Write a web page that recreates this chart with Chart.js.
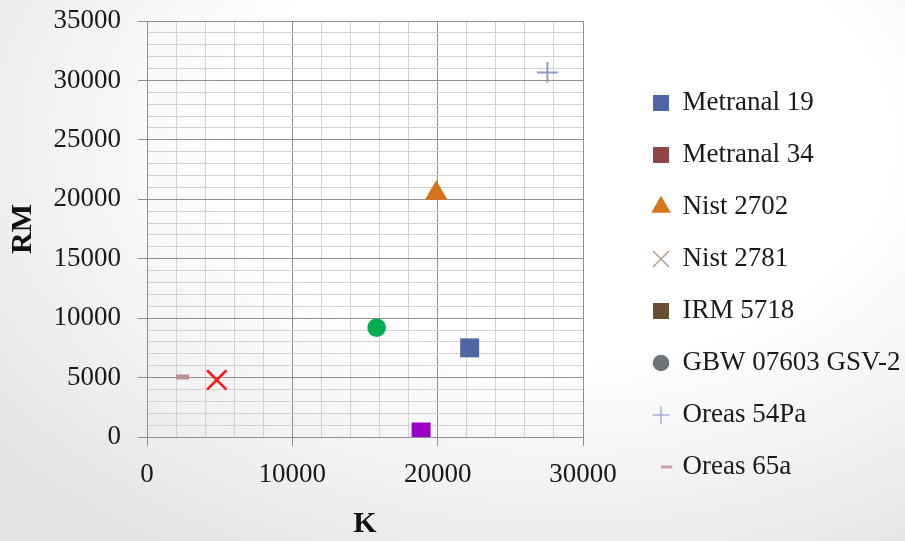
<!DOCTYPE html>
<html>
<head>
<meta charset="utf-8">
<script src="https://cdn.jsdelivr.net/npm/chart.js@4.4.1/dist/chart.umd.min.js"></script>
<style>
    html, body { margin: 0; padding: 0; }
    body {
        width: 905px;
        height: 541px;
        overflow: hidden;
        background: radial-gradient(ellipse 80% 90% at 62% 26%, #ffffff 45%, #e4e4e4 100%);
    }
    #wrap { position: relative; width: 905px; height: 541px; }
</style>
</head>
<body>
<div id="wrap"><canvas id="rmChart"></canvas></div>
<script>
// Reference materials: K vs RM
const sampleNames = ['Metranal 19', 'Metranal 34', 'Nist 2702', 'Nist 2781', 'IRM 5718',
                     'GBW 07603 GSV-2', 'Oreas 54Pa', 'Oreas 65a'];
const kValues  = [22200, 18860, 19900, 4800, null, 15800, 27550, 2450];
const rmValues = [7500, 420, 20500, 4800, null, 9200, 30670, 5050];

// marker look on the plot
const pointShapes = ['rect', 'rect', 'triangle', 'crossRot', 'rect', 'circle', 'cross', 'line'];
const pointColors = ['#4f66a4', '#9a00c8', '#d6721a', '#ff1a1a', '#6b4f33', '#00b050', '#8f9bcc', '#b98f93'];
const pointSizes  = [13.4, 13.4, 13, 13.7, 13.4, 9.3, 10.4, 6.4];
const pointLines  = [0, 0, 0, 2.6, 0, 0, 2, 5];

// marker look in the legend (the reference uses other colours there)
const legendShapes = ['rect', 'rect', 'triangle', 'crossRot', 'rect', 'circle', 'cross', 'dash'];
const legendColors = ['#4f66a6', '#8e4646', '#d9761c', '#b09a88', '#6b4f33', '#6b7378', '#a6aed8', '#c9a0a3'];
const legendLines  = [0, 0, 0, 1.5, 0, 0, 1.5, 3];

const serif = "'Liberation Serif', 'DejaVu Serif', serif";
const LEGEND_WIDTH = 322;
const LEGEND_INDENT = 45;
const LEGEND_DROP = 4;

// small markers for the legend entries the built-in shapes draw too large
function smallMarker(shape, color) {
    const c = document.createElement('canvas');
    c.width = 18;
    c.height = 18;
    const g = c.getContext('2d');
    g.fillStyle = color;
    g.strokeStyle = color;
    g.lineWidth = 1.5;
    if (shape === 'circle') {
        g.beginPath();
        g.arc(9, 9, 8.3, 0, Math.PI * 2);
        g.fill();
    } else if (shape === 'cross') {
        g.beginPath();
        g.moveTo(0.5, 9); g.lineTo(17.5, 9);
        g.moveTo(9, 0.5); g.lineTo(9, 17.5);
        g.stroke();
    }
    return c;
}

// keep the legend at the width and spot it has in the reference
const legendPlacement = {
    id: 'legendPlacement',
    afterInit(chart) {
        const legend = chart.legend;
        const fit = legend.fit;
        legend.fit = function() {
            fit.call(this);
            this.width = LEGEND_WIDTH;
        };
    },
    afterLayout(chart) {
        const legend = chart.legend;
        legend.left += LEGEND_INDENT;
        legend.right += LEGEND_INDENT;
        legend.top += LEGEND_DROP;
        legend.bottom += LEGEND_DROP;
    }
};

const datasets = sampleNames.map(function(name, i) {
    return {
        label: name,
        data: kValues[i] === null ? [] : [{ x: kValues[i], y: rmValues[i] }],
        pointStyle: pointShapes[i],
        pointRadius: pointSizes[i],
        pointHoverRadius: pointSizes[i],
        backgroundColor: pointColors[i],
        borderColor: pointColors[i],
        borderWidth: pointLines[i]
    };
});

function gridColor(major) {
    return function(ctx) {
        if (!ctx.tick) return '#cfcfcf';
        return ctx.tick.value % major === 0 ? '#8f8f8f' : '#d2d2d2';
    };
}
function tickMarkColor(major) {
    return function(ctx) {
        if (!ctx.tick) return 'rgba(0,0,0,0)';
        return ctx.tick.value % major === 0 ? '#8f8f8f' : 'rgba(0,0,0,0)';
    };
}

new Chart(document.getElementById('rmChart'), {
    type: 'scatter',
    data: { datasets: datasets },
    plugins: [legendPlacement],
    options: {
        responsive: true,
        maintainAspectRatio: false,
        animation: false,
        layout: { padding: { top: 21, left: 0, right: 0, bottom: 0 } },
        plugins: {
            tooltip: { enabled: false },
            legend: {
                position: 'right',
                align: 'center',
                labels: {
                    usePointStyle: true,
                    boxWidth: 16,
                    boxHeight: 16,
                    padding: 25,
                    color: '#1a1a1a',
                    font: { family: serif, size: 27 },
                    generateLabels: function(chart) {
                        return chart.data.datasets.map(function(ds, i) {
                            const shape = legendShapes[i];
                            const small = shape === 'circle' || shape === 'cross';
                            return {
                                text: ds.label,
                                pointStyle: small ? smallMarker(shape, legendColors[i]) : shape,
                                fillStyle: legendColors[i],
                                strokeStyle: legendColors[i],
                                lineWidth: legendLines[i],
                                fontColor: '#1a1a1a',
                                hidden: false,
                                datasetIndex: i
                            };
                        });
                    }
                }
            }
        },
        scales: {
            x: {
                type: 'linear',
                min: 0,
                max: 30000,
                afterFit: function(scale) { scale.height = 104; },
                ticks: {
                    stepSize: 2000,
                    autoSkip: false,
                    maxRotation: 0,
                    padding: 13,
                    color: '#1a1a1a',
                    font: { family: serif, size: 27 },
                    callback: function(v) { return v % 10000 === 0 ? String(v) : ''; }
                },
                grid: { color: gridColor(10000), tickColor: tickMarkColor(10000), tickLength: 9 },
                border: { color: '#8f8f8f' },
                title: {
                    display: true,
                    text: 'K',
                    color: '#111',
                    padding: { top: 0, bottom: 0 },
                    font: { family: serif, size: 30, weight: 'bold', lineHeight: 1.1 }
                }
            },
            y: {
                type: 'linear',
                min: 0,
                max: 35000,
                afterFit: function(scale) {
                    scale.width = 147;
                    scale.paddingTop = 0;
                },
                ticks: {
                    stepSize: 1000,
                    autoSkip: false,
                    padding: 17,
                    color: '#1a1a1a',
                    font: { family: serif, size: 27 },
                    callback: function(v) { return v % 5000 === 0 ? String(v) : ''; }
                },
                grid: { color: gridColor(5000), tickColor: tickMarkColor(5000), tickLength: 9 },
                border: { color: '#8f8f8f' },
                title: {
                    display: true,
                    text: 'RM',
                    color: '#111',
                    padding: { top: 5, bottom: 0 },
                    font: { family: serif, size: 30, weight: 'bold' }
                }
            }
        }
    }
});
</script>
</body>
</html>
